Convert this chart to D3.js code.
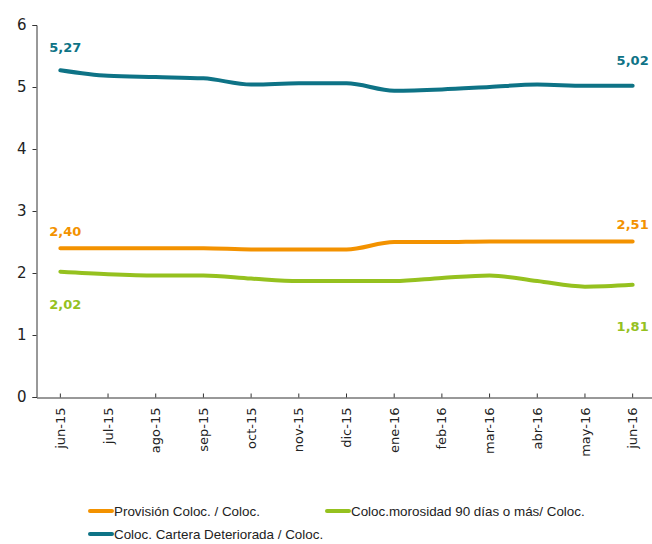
<!DOCTYPE html>
<html lang="es">
<head>
<meta charset="utf-8">
<title>Indicadores de riesgo</title>
<script src="https://d3js.org/d3.v7.min.js"></script>
<style>
  body { margin: 0; background: #fff; }
  svg { display: block; }
  .axis text { font-family: "DejaVu Sans", Verdana, sans-serif; fill: #222; }
  .axis path, .axis line { stroke: #333; }
  .lbl { font-family: "DejaVu Sans", Verdana, sans-serif; font-weight: bold; font-size: 13px; }
  .legend text { font-family: "Liberation Sans", Arial, sans-serif; font-size: 13.4px; fill: #222; }
</style>
</head>
<body>
<div id="chart"></div>
<script>
// categories
var months = ["jun-15", "jul-15", "ago-15", "sep-15", "oct-15", "nov-15", "dic-15",
              "ene-16", "feb-16", "mar-16", "abr-16", "may-16", "jun-16"];

// series values
var provision  = [2.40, 2.40, 2.40, 2.40, 2.38, 2.38, 2.38, 2.50, 2.50, 2.51, 2.51, 2.51, 2.51];
var morosidad  = [2.02, 1.98, 1.96, 1.96, 1.91, 1.87, 1.87, 1.87, 1.92, 1.96, 1.87, 1.78, 1.81];
var deteriorada = [5.27, 5.18, 5.16, 5.14, 5.04, 5.06, 5.06, 4.94, 4.96, 5.00, 5.04, 5.02, 5.02];

var yTicks = [0, 1, 2, 3, 4, 5, 6];

var seriesNames = ["Provisión Coloc. / Coloc.", "Coloc.morosidad 90 días o más/ Coloc.", "Coloc. Cartera Deteriorada / Coloc."];
var seriesColors = ["#F39200", "#95C11F", "#0E7386"];

var series = [
  {name: seriesNames[0], values: provision,   color: seriesColors[0]},
  {name: seriesNames[1], values: morosidad,   color: seriesColors[1]},
  {name: seriesNames[2], values: deteriorada, color: seriesColors[2]}
];

var W = 652, H = 544;
var svg = d3.select("#chart").append("svg").attr("width", W).attr("height", H);

var x = d3.scaleBand().domain(months).range([36.5, 608 + 48.5]);
var y = d3.scaleLinear().domain([0, 6]).range([397, 25]);
function cx(i) { return x(months[i]) + x.bandwidth() / 2; }

// y axis
var gy = svg.append("g").attr("class", "axis")
  .attr("transform", "translate(36.5,0)")
  .call(d3.axisLeft(y).tickValues(yTicks).tickSize(4).tickPadding(6).tickFormat(d3.format("d")));
gy.selectAll("text").style("font-size", "15px");

// x axis
var gx = svg.append("g").attr("class", "axis")
  .attr("transform", "translate(0,397.5)")
  .call(d3.axisBottom(x).tickSize(0).tickSizeOuter(0).tickPadding(0));
gx.selectAll(".tick line").attr("y2", -4);
gx.selectAll("text")
  .style("font-size", "13px")
  .style("text-anchor", "end")
  .attr("transform", "rotate(-90)")
  .attr("x", -10)
  .attr("y", 0)
  .attr("dy", "0.35em");

// lines
var line = d3.line()
  .x(function(d, i) { return cx(i); })
  .y(function(d) { return y(d); })
  .curve(d3.curveMonotoneX);

series.forEach(function(s) {
  svg.append("path")
    .datum(s.values)
    .attr("fill", "none")
    .attr("stroke", s.color)
    .attr("stroke-width", 4)
    .attr("stroke-linecap", "round")
    .attr("d", line);
});

// data labels for first and last points
var fmt = function(v) { return v.toFixed(2).replace(".", ","); };
var last = months.length - 1;
var labelOffsets = [
  {first: -17, last: -17},  // provision: above
  {first: 33, last: 42},    // morosidad: below
  {first: -23, last: -25}   // deteriorada: above
];
series.forEach(function(s, k) {
  svg.append("text").attr("class", "lbl")
    .attr("x", cx(0) + 5).attr("y", y(s.values[0]) + labelOffsets[k].first)
    .attr("text-anchor", "middle").attr("dy", "0.35em")
    .attr("fill", s.color).text(fmt(s.values[0]));
  svg.append("text").attr("class", "lbl")
    .attr("x", cx(last)).attr("y", y(s.values[last]) + labelOffsets[k].last)
    .attr("text-anchor", "middle").attr("dy", "0.35em")
    .attr("fill", s.color).text(fmt(s.values[last]));
});

// legend
var legendPos = [[88, 511], [325, 511], [88, 534]];
var lg = svg.append("g").attr("class", "legend");
series.forEach(function(s, k) {
  var p = legendPos[k];
  lg.append("line")
    .attr("x1", p[0] + 2).attr("x2", p[0] + 24)
    .attr("y1", p[1]).attr("y2", p[1])
    .attr("stroke", s.color).attr("stroke-width", 4).attr("stroke-linecap", "round");
  lg.append("text")
    .attr("x", p[0] + 26).attr("y", p[1]).attr("dy", "0.35em")
    .text(s.name);
});
</script>
</body>
</html>
